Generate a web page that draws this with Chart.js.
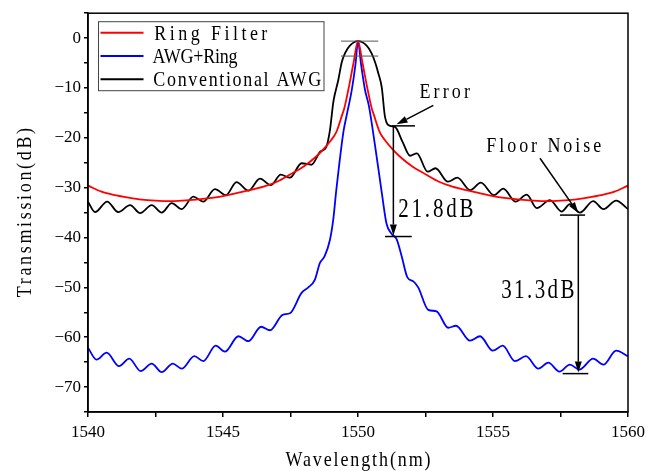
<!DOCTYPE html>
<html>
<head>
<meta charset="utf-8">
<script src="https://cdn.jsdelivr.net/npm/chart.js@4.4.0/dist/chart.umd.min.js"></script>
<style>
  html, body { margin: 0; padding: 0; background: #fff; }
  #wrap { width: 671px; height: 471px; }
</style>
</head>
<body>
<div id="wrap"><canvas id="chart" width="671" height="471"></canvas></div>
<script>
// Ring filter response (wavelength nm, transmission dB)
const ringWl = [1540, 1540.5, 1541, 1541.5, 1542, 1542.5, 1543, 1543.5, 1544, 1544.5, 1545, 1545.5, 1546, 1546.5, 1547, 1547.5, 1548, 1548.4, 1548.7, 1549, 1549.2, 1549.4, 1549.5, 1549.64, 1549.83, 1550,
    1550.17, 1550.36, 1550.5, 1550.6, 1550.8, 1551, 1551.3, 1551.6, 1552, 1552.5, 1553, 1553.5, 1554, 1554.5, 1555, 1555.5, 1556, 1556.5, 1557, 1557.5, 1558, 1558.5, 1559, 1559.5, 1560];
const ringDb = [-29.6, -30.8, -31.5, -32.0, -32.4, -32.6, -32.7, -32.6, -32.4, -32.1, -31.7, -31.1, -30.5, -29.8, -28.8, -27.3, -25.7, -24.0, -22.4, -20.5, -18.8, -15.6, -13.9, -10.4, -5.1, -0.6,
    -5.1, -10.4, -13.9, -15.6, -18.8, -20.5, -22.4, -24.0, -25.7, -27.3, -28.8, -29.8, -30.5, -31.1, -31.7, -32.1, -32.4, -32.6, -32.7, -32.6, -32.4, -32.0, -31.5, -30.8, -29.6];

// AWG + ring
const awgRingWl = [1540, 1540.32, 1540.69, 1541.15, 1541.53, 1541.95, 1542.36, 1542.73, 1543.14, 1543.47, 1543.94, 1544.27, 1544.73, 1545.07, 1545.57, 1545.94, 1546.41, 1546.74, 1547.21, 1547.48, 1547.91, 1548.16, 1548.4, 1548.59, 1548.76, 1548.96, 1549.09, 1549.19, 1549.46, 1549.58, 1549.77, 1549.91, 1550,
    1550.11, 1550.26, 1550.4, 1550.63, 1550.88, 1551.06, 1551.25, 1551.43, 1551.62, 1551.83, 1552.05, 1552.23, 1552.6, 1552.91, 1553.34, 1553.63, 1554.15, 1554.52, 1554.99, 1555.36, 1555.81, 1556.22, 1556.68, 1557.05, 1557.46, 1557.85, 1558.2, 1558.71, 1559.09, 1559.56, 1560];
const awgRingDb = [-62.1, -64.5, -63.1, -65.8, -64.3, -66.8, -65.3, -67.0, -65.3, -66.3, -63.8, -64.8, -61.7, -62.9, -59.8, -60.8, -57.9, -58.6, -55.5, -55.2, -51.1, -50.0, -48.5, -45.1, -43.8, -40.5, -36.1, -30.8, -18.8, -15.5, -10.4, -5.1, -0.6,
    -5.1, -10.4, -13.5, -21.5, -31.0, -37.3, -39.3, -40.3, -43.8, -48.0, -48.8, -50.0, -54.5, -54.8, -58.1, -57.7, -60.7, -59.8, -62.7, -61.7, -64.8, -63.8, -66.3, -65.1, -66.9, -65.5, -66.5, -64.3, -65.5, -62.7, -63.8];

// Conventional AWG
const convWl = [1540, 1540.26, 1540.71, 1541.12, 1541.56, 1541.93, 1542.36, 1542.73, 1543.1, 1543.47, 1543.9, 1544.27, 1544.7, 1545.11, 1545.5, 1545.94, 1546.37, 1546.77, 1547.14, 1547.48, 1547.91, 1548.28, 1548.6, 1548.82, 1548.96, 1549.09, 1549.27, 1549.4, 1549.52, 1549.7, 1550,
    1550.32, 1550.5, 1550.63, 1550.75, 1550.88, 1551.0, 1551.19, 1551.37, 1551.65, 1551.93, 1552.18, 1552.58, 1552.87, 1553.33, 1553.68, 1554.16, 1554.55, 1555.04, 1555.38, 1555.84, 1556.25, 1556.62, 1557.11, 1557.54, 1557.85, 1558.22, 1558.71, 1559.09, 1559.56, 1560];
const convDb = [-32.8, -34.9, -32.8, -34.9, -33.5, -35.1, -33.5, -35.0, -33.1, -34.3, -31.8, -32.8, -30.3, -31.5, -28.9, -30.6, -28.2, -29.5, -27.4, -28.0, -25.1, -25.4, -22.8, -21.9, -18.5, -12.7, -8.4, -4.8, -3.0, -1.5, -0.6,
    -1.5, -3.0, -4.8, -7.0, -9.9, -15.8, -17.6, -17.8, -20.8, -23.6, -23.1, -26.8, -26.1, -28.8, -28.0, -30.5, -29.0, -31.5, -30.2, -32.8, -31.4, -34.1, -32.5, -34.8, -33.3, -35.0, -32.7, -34.3, -32.6, -34.3];

const seriesNames = ['Ring Filter', 'AWG+Ring', 'Conventional AWG'];
const seriesColors = ['#ff0000', '#0000ff', '#000000'];

const toPoints = (xs, ys) => xs.map((v, i) => ({x: v, y: ys[i]}));

const serifFont = '"Liberation Serif", "Times New Roman", serif';

// serif text spread to fixed-width cells and stretched a bit, like the SimSun look of the original
function cellText(ctx, text, x, y, o) {
    ctx.save();
    ctx.translate(x, y);
    if (o.angle) ctx.rotate(o.angle);
    ctx.scale(1, o.vscale || 1.18);
    ctx.font = o.size + 'px ' + serifFont;
    ctx.letterSpacing = '0px';
    const natural = ctx.measureText(text).width;
    const sp = (o.cell * text.length - natural) / text.length;
    ctx.letterSpacing = sp + 'px';
    const w = natural + sp * text.length;
    ctx.textAlign = 'left';
    ctx.textBaseline = 'alphabetic';
    ctx.fillStyle = '#000';
    ctx.fillText(text, (o.align === 'center' ? -w / 2 : 0) + sp / 2, 0);
    ctx.restore();
}

function line(ctx, x1, y1, x2, y2) {
    ctx.beginPath();
    ctx.moveTo(x1, y1);
    ctx.lineTo(x2, y2);
    ctx.stroke();
}

function arrow(ctx, x1, y1, x2, y2) {
    const ang = Math.atan2(y2 - y1, x2 - x1);
    const len = 11, hw = 3.5;
    const bx = x2 - len * Math.cos(ang), by = y2 - len * Math.sin(ang);
    line(ctx, x1, y1, bx, by);
    ctx.beginPath();
    ctx.moveTo(x2, y2);
    ctx.lineTo(bx + hw * Math.sin(ang), by - hw * Math.cos(ang));
    ctx.lineTo(bx - hw * Math.sin(ang), by + hw * Math.cos(ang));
    ctx.closePath();
    ctx.fill();
}

const overlay = {
    id: 'overlay',
    afterDraw(chart) {
        const {ctx, chartArea: a, scales: {x, y}} = chart;
        const px = v => x.getPixelForValue(v);
        const py = v => y.getPixelForValue(v);
        ctx.save();

        // frame
        ctx.strokeStyle = '#000';
        ctx.lineWidth = 1.5;
        ctx.strokeRect(a.left, a.top, a.right - a.left, a.bottom - a.top);

        // peak level marks
        ctx.strokeStyle = '#555';
        ctx.lineWidth = 1;
        line(ctx, px(1549.37), py(-0.6), px(1550.75), py(-0.6));
        line(ctx, px(1549.37), py(-3.6), px(1550.75), py(-3.6));

        // 21.8 dB marker
        ctx.strokeStyle = '#000';
        ctx.fillStyle = '#000';
        ctx.lineWidth = 1.5;
        line(ctx, px(1551.25), py(-17.6), px(1552.11), py(-17.6));
        line(ctx, px(1551.0), py(-39.8), px(1551.99), py(-39.8));
        arrow(ctx, px(1551.31), py(-17.6), px(1551.31), py(-39.6));
        cellText(ctx, '21.8dB', px(1551.44), py(-35.8), {size: 21, cell: 13, vscale: 1.25});

        // error pointer
        arrow(ctx, px(1552.79), py(-13.5), px(1551.43), py(-17.3));
        cellText(ctx, 'Error', px(1552.22), py(-12.1), {size: 18, cell: 10.7, vscale: 1.22});

        // floor noise
        cellText(ctx, 'Floor Noise', px(1554.70), py(-22.9), {size: 18, cell: 10.7, vscale: 1.2});
        arrow(ctx, px(1556.74), py(-24.1), px(1558.16), py(-35.1));
        line(ctx, px(1557.48), py(-35.5), px(1558.41), py(-35.5));
        arrow(ctx, px(1558.16), py(-35.5), px(1558.16), py(-67.1));
        line(ctx, px(1557.58), py(-67.3), px(1558.53), py(-67.3));
        cellText(ctx, '31.3dB', px(1555.26), py(-52.2), {size: 21, cell: 12.6, vscale: 1.25});

        // legend
        const lx = a.left + 10.5, ly = a.top + 8.5;
        ctx.strokeStyle = '#444';
        ctx.lineWidth = 1;
        ctx.strokeRect(lx, ly, 225.5, 69);
        seriesNames.forEach((name, i) => {
            const rowY = ly + 11 + i * 23.3;
            ctx.strokeStyle = seriesColors[i];
            ctx.lineWidth = 2;
            line(ctx, lx + 2, rowY, lx + 45, rowY);
            cellText(ctx, name, lx + 54, rowY + 7, {size: 18, cell: 10.6, vscale: 1.18});
        });

        // axis titles
        cellText(ctx, 'Transmission(dB)', 31, (a.top + a.bottom) / 2, {size: 18, cell: 10.75, vscale: 1.15, align: 'center', angle: -Math.PI / 2});
        cellText(ctx, 'Wavelength(nm)', (a.left + a.right) / 2, 466, {size: 18, cell: 10.5, vscale: 1.15, align: 'center'});

        ctx.restore();
    }
};

const datasets = [
    {data: toPoints(ringWl, ringDb)},
    {data: toPoints(awgRingWl, awgRingDb)},
    {data: toPoints(convWl, convDb)},
].map((d, i) => ({
    label: seriesNames[i],
    data: d.data,
    borderColor: seriesColors[i],
    borderWidth: 1.8,
    pointRadius: 0,
    fill: false,
    cubicInterpolationMode: 'monotone',
}));

const ctx = document.getElementById('chart').getContext('2d');
new Chart(ctx, {
    type: 'line',
    data: {datasets: datasets},
    options: {
        responsive: false,
        animation: false,
        parsing: false,
        layout: {padding: {left: 0, right: 43, top: 10, bottom: 0}},
        plugins: {
            legend: {display: false},
            tooltip: {enabled: false},
        },
        scales: {
            x: {
                type: 'linear',
                min: 1540,
                max: 1560,
                afterFit: s => { s.height = 59; },
                ticks: {
                    stepSize: 2.5,
                    autoSkip: false,
                    maxRotation: 0,
                    padding: 5,
                    color: '#000',
                    font: {family: serifFont, size: 17},
                    callback: v => (v % 5 === 0 ? String(v) : ''),
                },
                grid: {drawOnChartArea: false, drawTicks: true, tickLength: 5, color: '#000', lineWidth: 1.5},
                border: {color: '#000', width: 1.5},
            },
            y: {
                type: 'linear',
                min: -75,
                max: 5,
                afterFit: s => { s.width = 88; },
                ticks: {
                    stepSize: 5,
                    autoSkip: false,
                    padding: 3,
                    color: '#000',
                    font: {family: serifFont, size: 17},
                    callback: v => (v % 10 !== 0 ? '' : v < 0 ? '\u2212' + Math.abs(v) : String(v)),
                },
                grid: {drawOnChartArea: false, drawTicks: true, tickLength: 4, color: '#000', lineWidth: 1.5},
                border: {color: '#000', width: 1.5},
            },
        },
    },
    plugins: [overlay],
});
</script>
</body>
</html>
